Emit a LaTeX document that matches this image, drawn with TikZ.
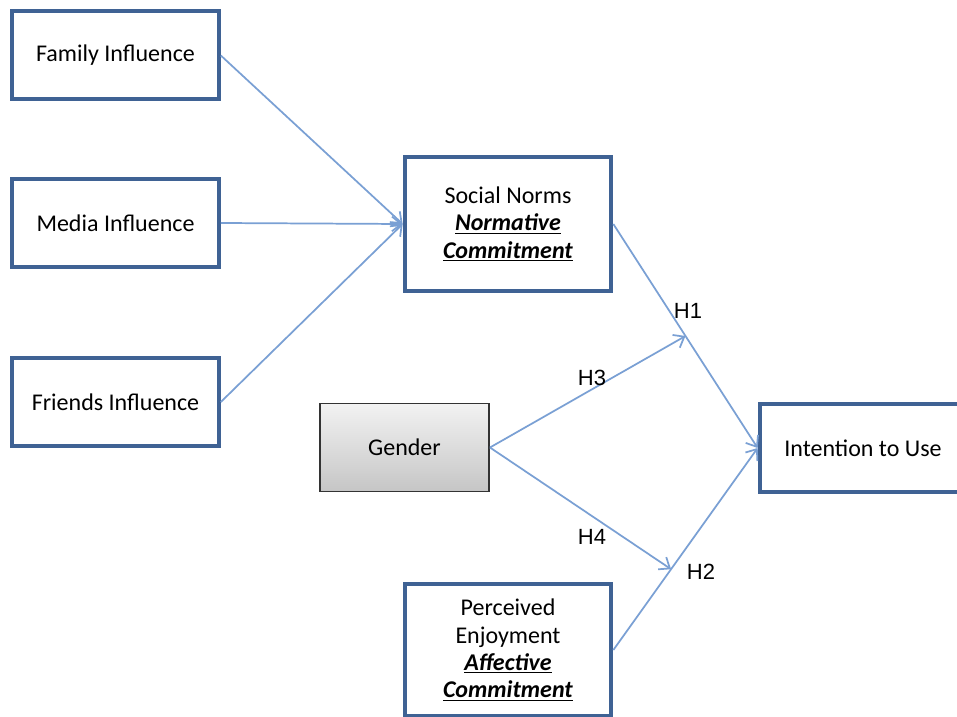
\documentclass[tikz,border=0pt]{standalone}
\usepackage{fontspec}
\setmainfont{Carlito}
\newfontfamily\hypfont{Liberation Sans}
\usetikzlibrary{arrows.meta,calc}
\definecolor{boxblue}{RGB}{63,98,148}
\definecolor{linkblue}{RGB}{122,160,212}

\begin{document}
\begin{tikzpicture}[x=0.75pt,y=-0.75pt,
  factor/.style={draw=boxblue,line width=3pt,fill=white,align=center,
    font=\fontsize{18}{20.5}\selectfont,inner sep=2pt},
  smallbox/.style={factor,minimum width=155pt,minimum height=66pt},
  bigbox/.style={factor,minimum width=155pt,minimum height=101pt},
  genderbox/.style={draw=black!80,line width=1.2pt,top color=gray!10,bottom color=gray!45,
    minimum width=127pt,minimum height=66pt,font=\fontsize{18}{20.5}\selectfont},
  link/.style={draw=linkblue,line width=1.3pt,-{Straight Barb[length=7pt,width=11pt]}},
  hyp/.style={font=\hypfont\fontsize{16.5}{18}\selectfont,inner sep=0pt}]
% page
\fill[white] (0,0) rectangle (957,717);
\clip (0,0) rectangle (957,717);
% antecedents
\node[smallbox] (family) at (115.5,55.5) {Family Influence};
\node[smallbox] (media) at (115.5,223) {Media Influence};
\node[smallbox] (friends) at (115.5,402) {Friends Influence};
% constructs
\node[bigbox] (norms) at (508,224) {Social Norms\\
  \underline{\textbf{\textit{Normative}}}\\ \underline{\textbf{\textit{Commitment}}}};
\node[bigbox,minimum height=99pt] (enjoy) at (508,650) {Perceived\\ Enjoyment\\
  \underline{\textbf{\textit{Affective}}}\\ \underline{\textbf{\textit{Commitment}}}};
\node[genderbox] (gender) at (404.5,447.5) {Gender};
\node[smallbox] (intent) at (863,448) {Intention to Use};
% moderation points
\coordinate (m1) at ($(norms.east)!0.5!(intent.west)$);
\coordinate (m2) at ($(enjoy.east)!0.4!(intent.west)$);
% links
\draw[link] (family.east) -- (norms.west);
\draw[link] (media.east) -- (norms.west);
\draw[link] (friends.east) -- (norms.west);
\draw[link] (norms.east) -- (intent.west);
\draw[link] (enjoy.east) -- (intent.west);
\draw[link] (gender.east) -- (m1);
\draw[link] (gender.east) -- (m2);
% hypotheses
\node[hyp] (h1) at (688,311) {H1};
\node[hyp] (h2) at (701,572) {H2};
\node[hyp] (h3) at (592,378) {H3};
\node[hyp] (h4) at (592,537) {H4};
\end{tikzpicture}
\end{document}
